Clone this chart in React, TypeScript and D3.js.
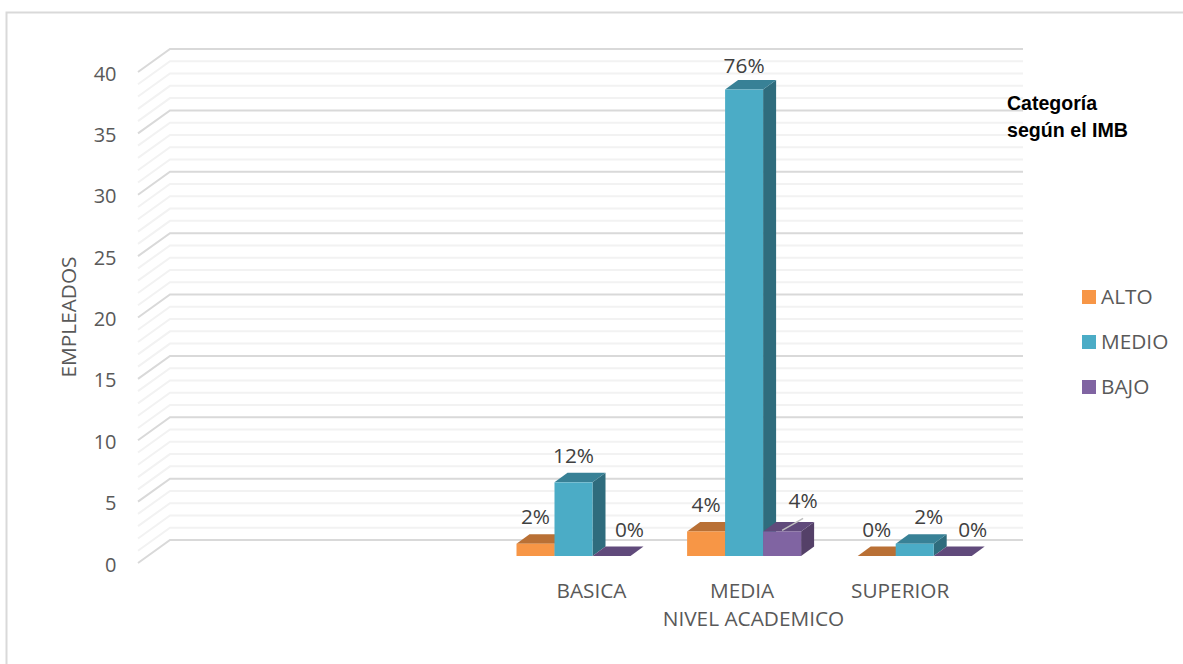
import React from "react";
import * as d3 from "d3";

// Employees per academic level, split by IMB category.
const slots = ["_a", "_b", "BASICA", "MEDIA", "SUPERIOR"];
const levels = ["BASICA", "MEDIA", "SUPERIOR"];
const alto = [1, 2, 0];
const medio = [6, 38, 1];
const bajo = [0, 2, 0];
const altoLabels = ["2%", "4%", "0%"];
const medioLabels = ["12%", "76%", "2%"];
const bajoLabels = ["0%", "4%", "0%"];
const yTicks = [0, 5, 10, 15, 20, 25, 30, 35, 40];
const minorTicks = d3.range(0, 41);

const seriesNames = ["ALTO", "MEDIO", "BAJO"];
const seriesValues = [alto, medio, bajo];
const seriesLabels = [altoLabels, medioLabels, bajoLabels];
const faces = [
  { front: "#f79646", top: "#b97035", side: "#b97035" },
  { front: "#4bacc6", top: "#388196", side: "#2f6c7d" },
  { front: "#8064a2", top: "#604a7b", side: "#544068" },
];

const WALL_DX = 32;
const WALL_DY = 23;
const BAR_DX = 13;
const BAR_DY = 9.5;
const BAR_W = 38;
const BAR_INSET_Y = 7;
const TEXT_SIZE = 20.8;
const font = "'Open Sans', 'Noto Sans', sans-serif";

// Label placement relative to each bar, by series and level.
const labelShiftX = [
  [0, 0, 0],
  [0, 0, 14],
  [18, 21, 20],
];
const labelShiftY = [
  [0, 0, 0],
  [0, 3, 0],
  [0, -4, 0],
];
// Category text is centred a little off the bar groups.
const levelLabelShift = [18, -2, -14.5];

const x = d3.scaleBand().domain(slots).range([138, 991]).padding(0);
const y = d3.scaleLinear().domain([0, 40]).range([563, 72]);
const barY = (v: number) => y(v) - BAR_INSET_Y;

function Bar({ x0, v, f }: { x0: number; v: number; f: (typeof faces)[number] }) {
  const t = barY(v);
  const b = barY(0);
  const r = x0 + BAR_W;
  return (
    <g>
      <path d={`M${r},${t}L${r + BAR_DX},${t - BAR_DY}V${b - BAR_DY}L${r},${b}Z`} fill={f.side} />
      <path d={`M${x0},${t}L${x0 + BAR_DX},${t - BAR_DY}H${r + BAR_DX}L${r},${t}Z`} fill={f.top} />
      {v > 0 && <rect x={x0} y={t} width={BAR_W} height={b - t} fill={f.front} />}
    </g>
  );
}

export default function App() {
  const groupLeft = (lvl: string) => x(lvl)! + x.bandwidth() / 2 - BAR_W * 1.5 + 9;
  return (
    <svg
      width={1183}
      height={664}
      style={{ position: "absolute", left: 0, top: 0, background: "#fff" }}
      fontFamily={font}
    >
      <path d="M1183,12.5H6.5V664" fill="none" stroke="#d9d9d9" strokeWidth={2} />

      {minorTicks.map((t) => {
        const major = t % 5 === 0;
        const yy = y(t);
        return (
          <path
            key={t}
            d={`M${x.range()[0]},${yy}L${x.range()[0] + WALL_DX},${yy - WALL_DY}H${x.range()[1] + WALL_DX}`}
            fill="none"
            stroke={major ? "#d9d9d9" : "#f2f2f2"}
            strokeWidth={2}
          />
        );
      })}

      {yTicks.map((t) => (
        <text key={t} x={116.5} y={y(t) + 8.5} textAnchor="end" fontSize={20} fill="#595959">
          {t}
        </text>
      ))}

      {levels.map((lvl, i) => {
        const left = groupLeft(lvl);
        return (
          <g key={lvl}>
            {[0, 1, 2].map((s) => (
              <Bar key={s} x0={left + s * BAR_W} v={seriesValues[s][i]} f={faces[s]} />
            ))}
            {seriesNames.map((_, s) => (
              <text
                key={s}
                x={left + s * BAR_W + BAR_W / 2 + labelShiftX[s][i]}
                y={barY(seriesValues[s][i]) - BAR_DY - 10 + labelShiftY[s][i]}
                textAnchor="middle"
                fontSize={TEXT_SIZE}
                fill="#404040"
              >
                {seriesLabels[s][i]}
              </text>
            ))}
            <text
              x={left + BAR_W * 1.5 + levelLabelShift[i]}
              y={598}
              textAnchor="middle"
              fontSize={TEXT_SIZE}
              fill="#595959"
            >
              {lvl}
            </text>
          </g>
        );
      })}

      {/* Leader line from the middle group's BAJO bar to its label */}
      <line
        x1={groupLeft("MEDIA") + BAR_W * 2 + 19}
        y1={barY(bajo[1]) - 1}
        x2={groupLeft("MEDIA") + BAR_W * 2 + 40}
        y2={barY(bajo[1]) - 13}
        stroke="#bfbfbf"
        strokeWidth={1.5}
      />

      <text x={753.5} y={626} textAnchor="middle" fontSize={TEXT_SIZE} fill="#595959">
        NIVEL ACADEMICO
      </text>
      <text
        transform="translate(76,317) rotate(-90)"
        textAnchor="middle"
        fontSize={TEXT_SIZE}
        fill="#595959"
      >
        EMPLEADOS
      </text>

      <g fontFamily="'Liberation Sans', Arial, sans-serif" fontWeight="bold" fontSize={20.5} fill="#000">
        <text x={1007} y={110} textLength={90} lengthAdjust="spacingAndGlyphs">Categoría</text>
        <text x={1007} y={137} textLength={121} lengthAdjust="spacingAndGlyphs">según el IMB</text>
      </g>

      {seriesNames.map((n, i) => (
        <g key={n} transform={`translate(1082,${297 + i * 45})`}>
          <rect x={0} y={-7} width={14} height={14} fill={faces[i].front} />
          <text x={19} y={6.5} fontSize={TEXT_SIZE} fill="#595959">
            {n}
          </text>
        </g>
      ))}
    </svg>
  );
}
